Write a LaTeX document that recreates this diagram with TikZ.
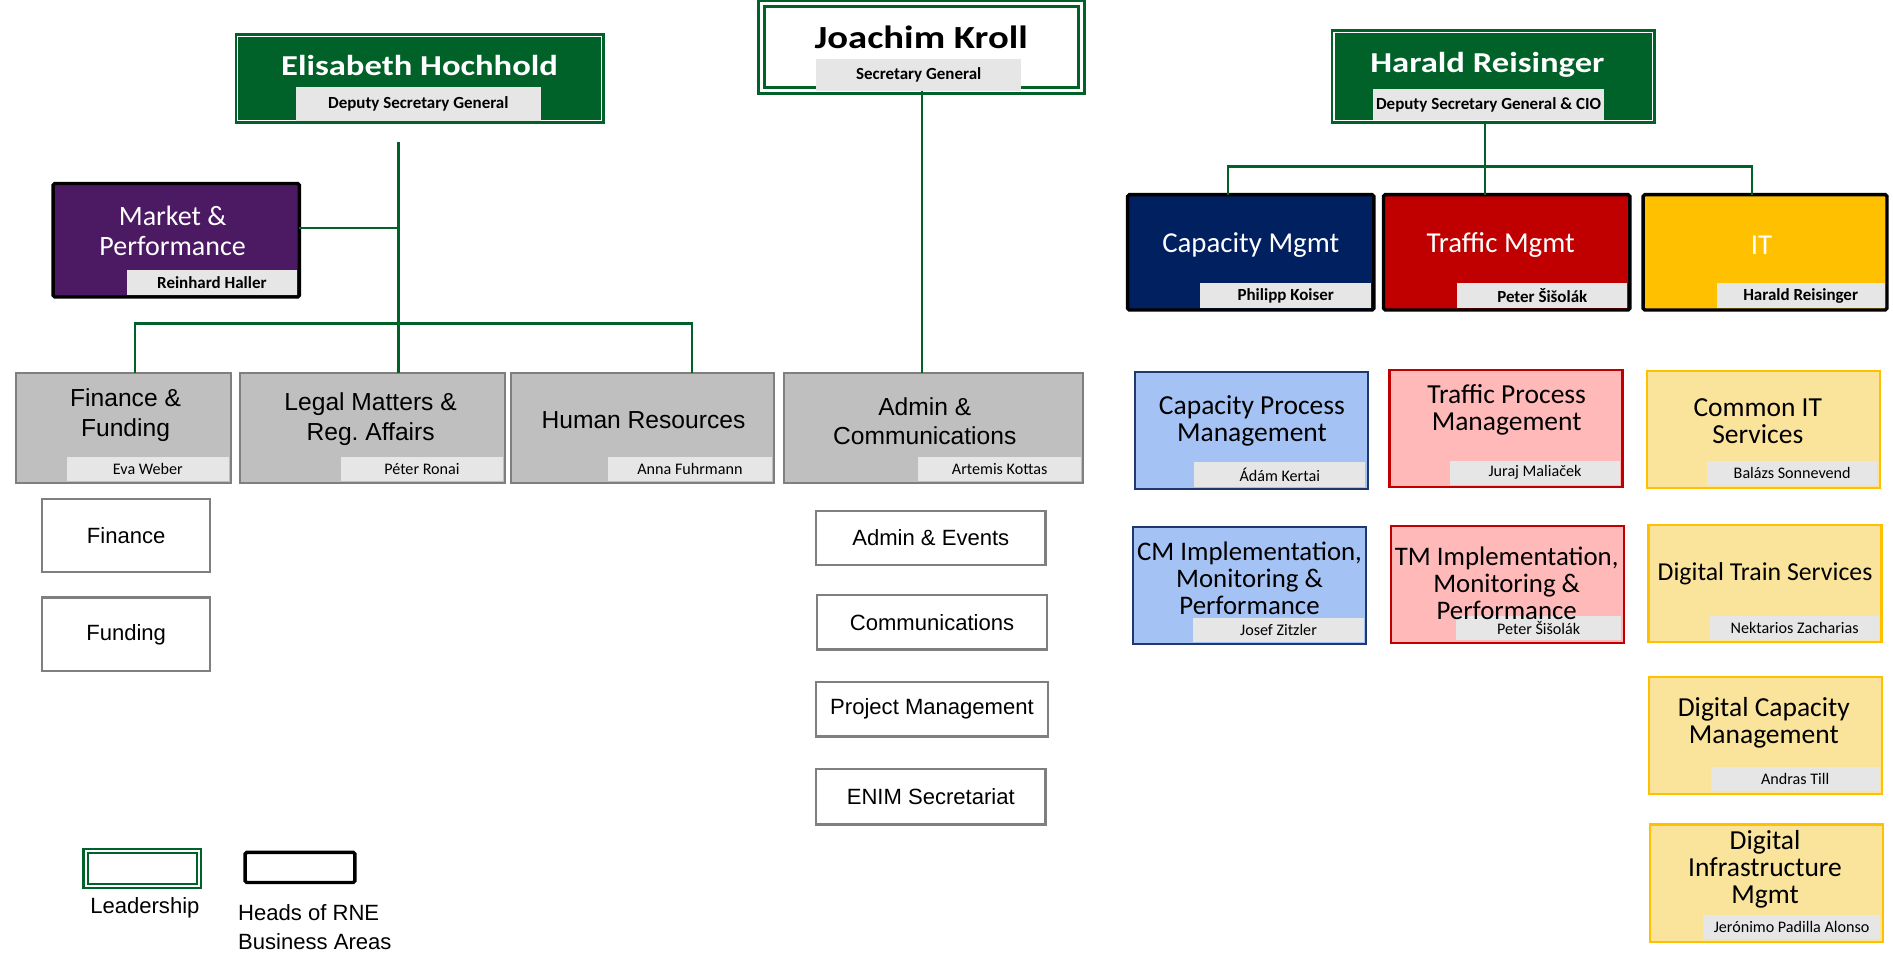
\documentclass[tikz,border=0pt]{standalone}
\usepackage{fontspec}
\setmainfont{Liberation Sans}
\newfontfamily\narrowfont{Carlito}
\newfontfamily\headfont[FakeStretch=1.2]{Carlito}
\definecolor{leadgreen}{RGB}{0,98,40}
\definecolor{mpurple}{RGB}{75,26,98}
\definecolor{capnavy}{RGB}{0,32,96}
\definecolor{capedge}{RGB}{31,56,110}
\definecolor{capblue}{RGB}{164,194,244}
\definecolor{trafred}{RGB}{192,0,0}
\definecolor{trafpink}{RGB}{255,185,185}
\definecolor{itgold}{RGB}{255,192,0}
\definecolor{itpale}{RGB}{250,227,155}
\definecolor{unitgray}{RGB}{191,191,191}
\definecolor{unitedge}{RGB}{127,127,127}
\definecolor{taggray}{RGB}{231,230,230}
\frenchspacing

\begin{document}
\begin{tikzpicture}[x=0.25mm,y=-0.25mm,
  box/.style={rectangle,inner sep=0pt,outer sep=0pt},
  ttl/.style={align=center,inner sep=0pt},
  lead/.style={box,draw=leadgreen,double=white,double distance=0.7pt,line width=1.6pt},
  area/.style={box,draw=black,line width=2pt,rounded corners=1pt,minimum height=23.9mm},
  unit/.style={box,fill=unitgray,draw=unitedge,line width=1.2pt,minimum height=22.75mm},
  team/.style={box,fill=white,draw=unitedge,line width=1.3pt,font=\fontsize{13}{15}\selectfont},
  sect/.style={box,line width=1.3pt,minimum width=48.25mm,minimum height=24.25mm},
  tag/.style={box,fill=taggray,minimum height=5mm,anchor=south east,font=\narrowfont\fontsize{9.5}{11}\selectfont},
  btag/.style={tag,font=\narrowfont\bfseries\fontsize{10}{12}\selectfont},
  areattl/.style={ttl,text=white,font=\narrowfont\fontsize{17}{20}\selectfont},
  unitttl/.style={ttl,font=\fontsize{14.5}{17.5}\selectfont},
  sectttl/.style={ttl,font=\narrowfont\fontsize{16.2}{16}\selectfont},
  link/.style={draw=leadgreen,line width=1.4pt}]
\useasboundingbox[fill=white] (0,0) rectangle (1568,796);

\node[lead,fill=leadgreen,minimum width=75.25mm,minimum height=17.5mm] (eh) at (347.5,65) {};
\node[ttl,text=white,font=\headfont\bfseries\fontsize{17}{20}\selectfont] (eh-t) at (347.5,54) {Elisabeth Hochhold};
\node[btag,anchor=center,minimum width=50.75mm,minimum height=7mm] (eh-r) at (346.5,86) {Deputy Secretary General};

\node[lead,fill=white,double distance=2pt,minimum width=66.25mm,minimum height=18mm] (jk) at (763.5,39) {};
\node[ttl,font=\headfont\bfseries\fontsize{19}{22}\selectfont] (jk-t) at (763,31) {Joachim Kroll};
\node[btag,anchor=center,minimum width=42.5mm,minimum height=6.75mm] (jk-r) at (761,62) {Secretary General};

\node[lead,fill=leadgreen,minimum width=66mm,minimum height=18.25mm] (hrs) at (1237,63.5) {};
\node[ttl,text=white,font=\headfont\bfseries\fontsize{17}{20}\selectfont] (hrs-t) at (1232,54) {Harald Reisinger};
\node[btag,anchor=center,minimum width=48mm,minimum height=6.25mm] (hrs-r) at (1233,86.5) {Deputy Secretary General \& CIO};

\node[area,fill=mpurple,minimum width=51mm,minimum height=23.5mm] (mp) at (146,199) {};
\node[ttl,text=white,font=\narrowfont\fontsize{16.5}{17.7}\selectfont] (mp-t) at (143,191) {Market \&\\Performance};
\node[btag,minimum width=35.25mm] (mp-n) at ([shift={(-2,-2)}]mp.south east) {Reinhard Haller};

\node[area,fill=capnavy,minimum width=51mm] (cap) at (1036,209) {};
\node[areattl] (cap-t) at (1036,203) {Capacity Mgmt};
\node[btag,minimum width=35.5mm] (cap-n) at ([shift={(-2,-2)}]cap.south east) {Philipp Koiser};
\node[area,fill=trafred,minimum width=51mm] (tfm) at (1248,209) {};
\node[areattl] (tfm-t) at (1243,203) {Traffic Mgmt};
\node[btag,minimum width=35.25mm] (tfm-n) at ([shift={(-2,-2)}]tfm.south east) {Peter Šišolák};
\node[area,fill=itgold,minimum width=50.5mm] (it) at (1462,209) {};
\node[areattl] (it-t) at (1459,203) {IT};
\node[btag,minimum width=34.75mm] (it-n) at ([shift={(-2,-2)}]it.south east) {Harald Reisinger};

\node[unit,minimum width=44.5mm] (fin) at (102,354.5) {};
\node[unitttl] (fin-t) at (104,344) {Finance \&\\Funding};
\node[tag,minimum width=33.5mm] (fin-n) at ([shift={(-1.5,-1.5)}]fin.south east) {Eva Weber};
\node[unit,minimum width=54.75mm] (legal) at (308.5,354.5) {};
\node[unitttl] (legal-t) at (307,347) {Legal Matters \&\\Reg. Affairs};
\node[tag,minimum width=33.5mm] (legal-n) at ([shift={(-1.5,-1.5)}]legal.south east) {Péter Ronai};
\node[unit,minimum width=54.5mm] (hum) at (532,354.5) {};
\node[unitttl] (hum-t) at (533,348) {Human Resources};
\node[tag,minimum width=34mm] (hum-n) at ([shift={(-1.5,-1.5)}]hum.south east) {Anna Fuhrmann};
\node[unit,minimum width=62mm] (adm) at (773,354.5) {};
\node[unitttl] (adm-t) at (766,349) {Admin \&\\Communications};
\node[tag,minimum width=33.75mm] (adm-n) at ([shift={(-1.5,-1.5)}]adm.south east) {Artemis Kottas};

\node[team,minimum width=34.75mm,minimum height=15mm] (finance) at (104.5,443.5) {Finance};
\node[team,minimum width=34.75mm,minimum height=15.25mm] (funding) at (104.5,525.5) {Funding};
\node[team,minimum width=47.5mm,minimum height=11.25mm] (events) at (771,445.5) {Admin \& Events};
\node[team,minimum width=47.5mm,minimum height=11.25mm] (comms) at (772,515.5) {Communications};
\node[team,minimum width=48mm,minimum height=11.25mm] (projects) at (772,587.5) {Project Management};
\node[team,minimum width=47.5mm,minimum height=11.5mm] (enim) at (771,660) {ENIM Secretariat};

\node[sect,fill=capblue,draw=capedge] (cpm) at (1036.5,356.5) {};
\node[sectttl] (cpm-t) at (1037,348.5) {Capacity Process\\Management};
\node[tag,minimum width=35.5mm] (cpm-n) at ([shift={(-2,-2)}]cpm.south east) {Ádám Kertai};
\node[sect,fill=trafpink,draw=trafred] (tpm) at (1247.5,355) {};
\node[sectttl] (tpm-t) at (1248,339.5) {Traffic Process\\Management};
\node[tag,minimum width=35.25mm] (tpm-n) at ([shift={(-2,-2)}]tpm.south east) {Juraj Maliaček};
\node[sect,fill=itpale,draw=itgold] (cit) at (1460.5,355.5) {};
\node[sectttl] (cit-t) at (1456,349) {Common IT\\Services};
\node[tag,minimum width=35.25mm] (cit-n) at ([shift={(-2,-2)}]cit.south east) {Balázs Sonnevend};

\node[sect,fill=capblue,draw=capedge] (cmi) at (1035,485) {};
\node[tag,minimum width=35.25mm] (cmi-n) at ([shift={(-2,-2)}]cmi.south east) {Josef Zitzler};
\node[sectttl,font=\narrowfont\fontsize{15.8}{16}\selectfont] (cmi-t) at (1035,479) {CM Implementation,\\Monitoring \&\\Performance};
\node[sect,fill=trafpink,draw=trafred] (tmi) at (1248.5,484) {};
\node[tag,minimum width=34.25mm] (tmi-n) at ([shift={(-2,-2)}]tmi.south east) {Peter Šišolák};
\node[sectttl,font=\narrowfont\fontsize{15.8}{16}\selectfont] (tmi-t) at (1248,483) {TM Implementation,\\Monitoring \&\\Performance};
\node[sect,fill=itpale,draw=itgold] (dts) at (1462,483.5) {};
\node[sectttl,font=\narrowfont\fontsize{15.2}{16}\selectfont] (dts-t) at (1462,475) {Digital Train Services};
\node[tag,minimum width=35mm] (dts-n) at ([shift={(-2,-2)}]dts.south east) {Nektarios Zacharias};
\node[sect,fill=itpale,draw=itgold] (dcm) at (1462.5,609) {};
\node[sectttl] (dcm-t) at (1461,599) {Digital Capacity\\Management};
\node[tag,minimum width=35mm] (dcm-n) at ([shift={(-2,-2)}]dcm.south east) {Andras Till};
\node[sect,fill=itpale,draw=itgold] (dim) at (1463,731.5) {};
\node[sectttl] (dim-t) at (1462,720) {Digital\\Infrastructure\\Mgmt};
\node[tag,minimum width=36.75mm] (dim-n) at ([shift={(-2,-2)}]dim.south east) {Jerónimo Padilla Alonso};

\node[lead,fill=white,double distance=1.2pt,line width=1.3pt,minimum width=23.5mm,minimum height=7.25mm] (key-lead) at (118,719.5) {};
\node[ttl,font=\fontsize{13}{15}\selectfont] (key-lead-t) at (120,752) {Leadership};
\node[area,fill=white,minimum width=22.75mm,minimum height=6.25mm] (key-area) at (248.5,718.5) {};
\node[ttl,anchor=west,align=left,font=\fontsize{13}{17}\selectfont] (key-area-t) at (197,768) {Heads of RNE\\Business Areas};

\coordinate (eh-tap) at (330,118);
\coordinate (eh-mp) at (330,189);
\coordinate (eh-bar) at (330,268);
\coordinate (hr-bar) at (1230,138);
\draw[link] (eh-tap) -- (eh-tap |- legal.north);
\draw[link] (eh-mp -| mp.east) -- (eh-mp);
\draw[link] ([xshift=2.5mm]fin.north) |- (eh-bar) -| ([xshift=10.25mm]hum.north);
\draw[link] (jk.south) -- (jk.south |- adm.north);
\draw[link] (hrs.south -| hr-bar) -- (hr-bar |- tfm.north);
\draw[link] ([xshift=-4.75mm]cap.north) |- (hr-bar) -| ([xshift=-2.75mm]it.north);
\end{tikzpicture}
\end{document}
